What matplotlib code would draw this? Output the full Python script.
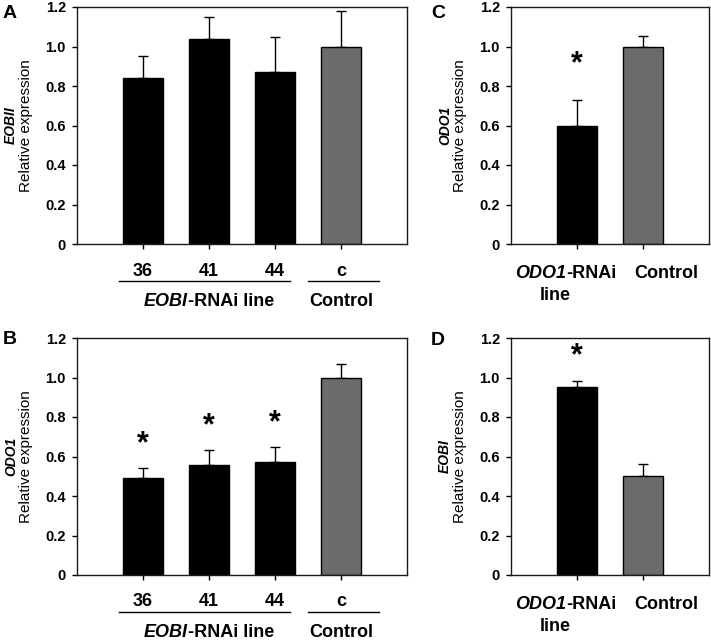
import matplotlib.pyplot as plt
import matplotlib.transforms as mtransforms

plt.rcParams['font.family'] = ['Liberation Sans', 'DejaVu Sans']

# data
lines_labels = ["36", "41", "44", "c"]

a_vals = [0.84, 1.04, 0.87, 1.00]
a_errs = [0.11, 0.11, 0.18, 0.18]
a_stars = [False, False, False, False]

b_vals = [0.49, 0.555, 0.57, 1.00]
b_errs = [0.05, 0.08, 0.08, 0.068]
b_stars = [True, True, True, False]

c_vals = [0.60, 1.00]
c_errs = [0.13, 0.055]
c_stars = [True, False]

d_vals = [0.95, 0.50]
d_errs = [0.03, 0.06]
d_stars = [True, False]

y_ticks = [0, 0.2, 0.4, 0.6, 0.8, 1.0, 1.2]
y_ticklabels = ["0", "0.2", "0.4", "0.6", "0.8", "1.0", "1.2"]

fig = plt.figure(figsize=(7.11, 6.42), dpi=100)
W, H = 711.0, 642.0


def make_axes(left, right, top, bottom):
    return fig.add_axes([left / W, 1 - bottom / H, (right - left) / W, (bottom - top) / H])


def offset(ax, dx=0, dy=0):
    return mtransforms.offset_copy(ax.get_xaxis_transform(), x=dx, y=dy, units="dots")


def mixed_label(ax, x, dy, it_part, rest_part, size=13):
    # italic gene name followed by upright bold text, centred on x
    t1 = ax.text(x, 0, it_part, transform=offset(ax, dy=dy), ha="right", va="baseline",
                 fontsize=size, fontweight="bold", style="italic")
    t2 = ax.text(x, 0, rest_part, transform=offset(ax, dy=dy), ha="left", va="baseline",
                 fontsize=size, fontweight="bold")
    r = fig.canvas.get_renderer()
    shift = (t1.get_window_extent(r).width - t2.get_window_extent(r).width) / 2
    t1.set_transform(offset(ax, dx=shift, dy=dy))
    t2.set_transform(offset(ax, dx=shift, dy=dy))


def draw_panel(ax, vals, errs, stars, gap, gene):
    n = len(vals)
    x = list(range(1, n + 1))
    colors = ["black"] * (n - 1) + ["#6b6b6b"]
    ax.errorbar(x, vals, yerr=[[0] * n, errs], fmt="none", ecolor="black",
                elinewidth=1, capsize=3.5, capthick=1, zorder=1)
    ax.bar(x, vals, width=0.6, color=colors, edgecolor="black", linewidth=1, zorder=2)
    for i in range(n):
        if stars[i]:
            ax.text(x[i], vals[i] + errs[i] + gap, "*", ha="center", va="center",
                    fontsize=22, fontweight="bold")
    ax.set_xlim(0, n + 1)
    ax.set_ylim(0, 1.2)
    ax.set_xticks(x)
    ax.set_xticklabels([])
    ax.set_yticks(y_ticks)
    ax.set_yticklabels(y_ticklabels, fontsize=10.5, fontweight="bold")
    ax.tick_params(direction="out", length=3.5, width=1, pad=4.5)
    for s in ax.spines.values():
        s.set_linewidth(1)
        s.set_color("#1a1a1a")
    ytrans = mtransforms.offset_copy(ax.transAxes, x=-66, y=0, units="dots")
    ax.text(0, 0.5, gene, transform=ytrans, rotation=90, ha="center", va="center",
            fontsize=10, fontweight="bold", style="italic")
    ytrans2 = mtransforms.offset_copy(ax.transAxes, x=-51, y=0, units="dots")
    ax.text(0, 0.5, "Relative expression", transform=ytrans2, rotation=90,
            ha="center", va="center", fontsize=11)
    return x


def lines_axis(ax, x):
    for xi, lab in zip(x, lines_labels):
        ax.text(xi, 0, lab, transform=offset(ax, dy=-27), ha="center", va="center",
                fontsize=13, fontweight="bold")
    ax.plot([0.63, 3.22], [0, 0], transform=offset(ax, dy=-37), color="black",
            lw=1, clip_on=False)
    ax.plot([3.5, 4.58], [0, 0], transform=offset(ax, dy=-37), color="black",
            lw=1, clip_on=False)
    mixed_label(ax, 2.0, -62, "EOBI", "-RNAi line")
    ax.text(4.0, 0, "Control", transform=offset(ax, dy=-62), ha="center",
            va="baseline", fontsize=13, fontweight="bold")


def odo_axis(ax):
    mixed_label(ax, 0.83, -34, "ODO1", "-RNAi")
    ax.text(0.67, 0, "line", transform=offset(ax, dy=-56), ha="center",
            va="baseline", fontsize=13, fontweight="bold")
    ax.text(2.35, 0, "Control", transform=offset(ax, dy=-34), ha="center",
            va="baseline", fontsize=13, fontweight="bold")


ax_a = make_axes(77, 407, 7, 244)
xa = draw_panel(ax_a, a_vals, a_errs, a_stars, 0.12, "EOBII")
lines_axis(ax_a, xa)

ax_b = make_axes(77, 407, 338, 575)
xb = draw_panel(ax_b, b_vals, b_errs, b_stars, 0.12, "ODO1")
lines_axis(ax_b, xb)

ax_c = make_axes(511, 709, 7, 244)
draw_panel(ax_c, c_vals, c_errs, c_stars, 0.18, "ODO1")
odo_axis(ax_c)

ax_d = make_axes(511, 709, 338, 575)
draw_panel(ax_d, d_vals, d_errs, d_stars, 0.13, "EOBI")
odo_axis(ax_d)

for lab, px, py in [("A", 3, 5), ("B", 3, 331), ("C", 431, 5), ("D", 431, 332)]:
    fig.text(px / W, 1 - py / H, lab, ha="left", va="top", fontsize=14, fontweight="bold")

fig.savefig("out.png", dpi=100)
